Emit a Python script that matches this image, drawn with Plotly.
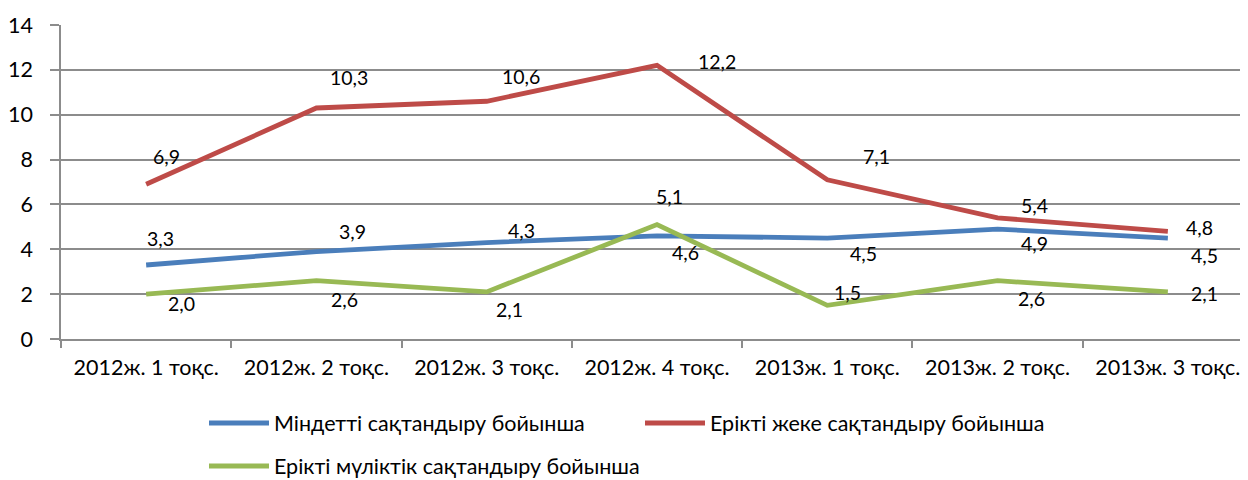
import plotly.graph_objects as go

categories = ["2012ж. 1 тоқс.", "2012ж. 2 тоқс.", "2012ж. 3 тоқс.", "2012ж. 4 тоқс.",
              "2013ж. 1 тоқс.", "2013ж. 2 тоқс.", "2013ж. 3 тоқс."]
series_names = ["Міндетті сақтандыру бойынша",
                "Ерікті жеке сақтандыру бойынша",
                "Ерікті мүліктік сақтандыру бойынша"]
mandatory = [3.3, 3.9, 4.3, 4.6, 4.5, 4.9, 4.5]
voluntary_personal = [6.9, 10.3, 10.6, 12.2, 7.1, 5.4, 4.8]
voluntary_property = [2.0, 2.6, 2.1, 5.1, 1.5, 2.6, 2.1]
y_ticks = [0, 2, 4, 6, 8, 10, 12, 14]

colors = ["#4A7EBB", "#BE4B48", "#98B954"]
FONT = "Lato, Carlito, Calibri, 'Open Sans', sans-serif"
GRID = "#8C8C8C"

# label offsets in pixels (dx right, dy down) - styling only
offsets = [
    [(14, -26), (36, -20), (35, -12), (28, 17), (36, 15), (37, 14), (37, 17)],
    [(20, -28), (33, -30), (34, -25), (60, -4), (49, -23), (37, -12), (32, -4)],
    [(35, 9), (28, 19), (23, 18), (12, -28), (20, -13), (34, 18), (37, 2)],
]

all_series = [mandatory, voluntary_personal, voluntary_property]

# the page body adds an 8px offset; figure is sized to fit the window
W, H = 1240, 472
L, T, B = 53, 17, 141
PW = W - L
PH = H - T - B

fig = go.Figure()
for i, (name, vals) in enumerate(zip(series_names, all_series)):
    fig.add_trace(go.Scatter(
        x=categories, y=vals, mode="lines", name=name,
        line=dict(color=colors[i], width=4.8),
        legend="legend" if i < 2 else "legend2",
        hoverinfo="skip",
    ))

annotations = []
for i, vals in enumerate(all_series):
    for j, v in enumerate(vals):
        dx, dy = offsets[i][j]
        annotations.append(dict(
            x=categories[j], y=v, xref="x", yref="y",
            text=f"{v:.1f}".replace(".", ","), showarrow=False,
            xshift=dx, yshift=-dy,
            font=dict(family=FONT, size=19.5, color="#000000"),
        ))

LEG_X = (196 - L) / PW
plot_bottom = H - B
fig.update_layout(
    width=W, height=H,
    margin=dict(l=L, r=0, t=T, b=B, autoexpand=False),
    paper_bgcolor="white", plot_bgcolor="white",
    font=dict(family=FONT, color="#000000"),
    annotations=annotations,
    showlegend=True,
    legend=dict(orientation="h", x=LEG_X, xanchor="left",
                y=(plot_bottom - 415) / PH, yanchor="middle", font=dict(size=21.5, family=FONT),
                itemwidth=60, entrywidth=361, bgcolor="rgba(0,0,0,0)"),
    legend2=dict(orientation="h", x=LEG_X, xanchor="left",
                 y=(plot_bottom - 458) / PH, yanchor="middle", font=dict(size=21.5, family=FONT),
                 itemwidth=60, bgcolor="rgba(0,0,0,0)"),
    xaxis=dict(
        type="category", range=[-0.5, 6.5 - 5 / 170.3], automargin=False,
        showgrid=False, showline=True, linecolor=GRID, linewidth=1.5,
        ticks="outside", tickson="boundaries", ticklen=7, tickcolor=GRID, tickwidth=1.5,
        tickfont=dict(size=21.5, family=FONT), ticklabelstandoff=8,
    ),
    yaxis=dict(
        range=[0, 14], tickvals=y_ticks, showgrid=True, gridcolor=GRID, gridwidth=1.5,
        showline=True, linecolor=GRID, linewidth=1.5, zeroline=False, automargin=False,
        ticks="outside", ticklen=9, tickcolor=GRID, tickwidth=1.5,
        tickfont=dict(size=21.5, family=FONT), ticklabelstandoff=13,
    ),
)

fig.write_html("out.html")
